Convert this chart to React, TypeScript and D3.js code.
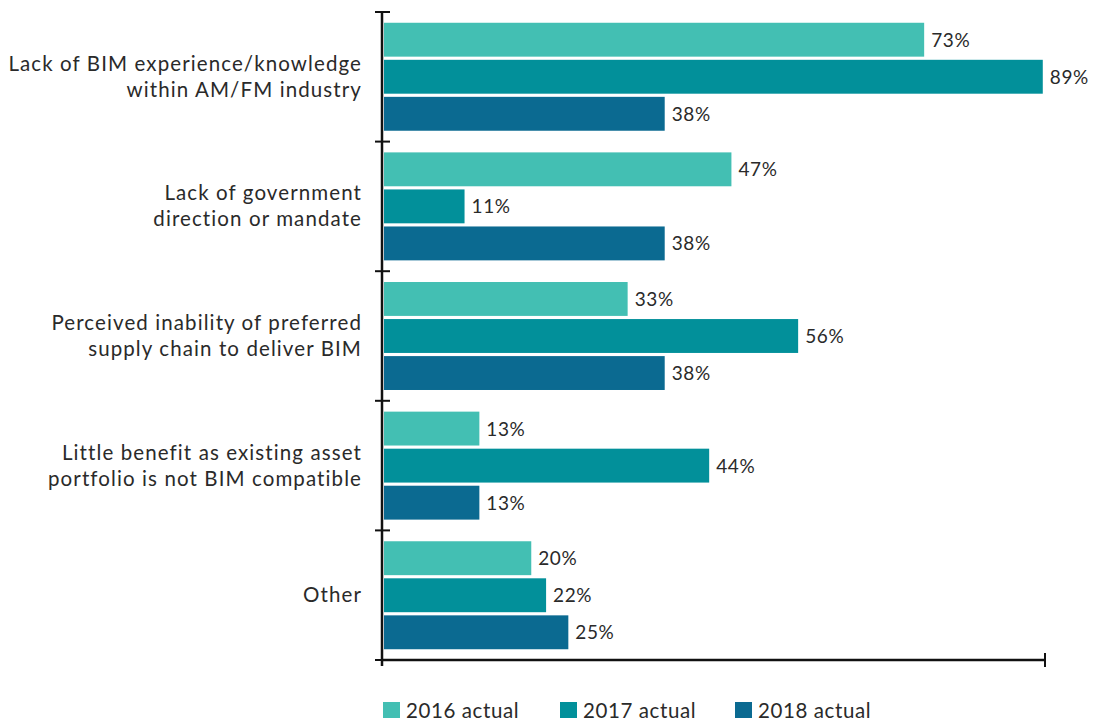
import React from "react";
import * as d3 from "d3";

const categories = [
  ["Lack of BIM experience/knowledge", "within AM/FM industry"],
  ["Lack of government", "direction or mandate"],
  ["Perceived inability of preferred", "supply chain to deliver BIM"],
  ["Little benefit as existing asset", "portfolio is not BIM compatible"],
  ["Other"],
];
const seriesNames = ["2016 actual", "2017 actual", "2018 actual"];
const values2016 = [73, 47, 33, 13, 20];
const values2017 = [89, 11, 56, 44, 22];
const values2018 = [38, 38, 38, 13, 25];
const colors = ["#43bfb3", "#02909a", "#0b6a91"];
const xMax = 89.3;

const W = 1093;
const H = 722;
const FONT = "Lato, 'Open Sans', sans-serif";

export default function App() {
  const series = [values2016, values2017, values2018];
  const x = d3.scaleLinear().domain([0, xMax]).range([383, 1045]);
  const y0 = d3
    .scaleBand<number>()
    .domain(d3.range(categories.length))
    .range([12, 660])
    .paddingInner(0.167)
    .paddingOuter(0.083);
  const y1 = d3
    .scaleBand<number>()
    .domain(d3.range(series.length))
    .range([0, y0.bandwidth()])
    .paddingInner(0.085);
  const step = (660 - 12) / categories.length;
  const boundaries = d3.range(categories.length + 1).map((i) => 12 + i * step);

  return (
    <svg width={W} height={H} style={{ position: "absolute", left: 0, top: 0, background: "#fff" }}>
      {/* bars */}
      {categories.map((_, ci) =>
        series.map((s, si) => {
          const yb = (y0(ci) as number) + (y1(si) as number);
          return (
            <g key={`${ci}-${si}`}>
              <rect
                x={x(0) + 1}
                y={yb}
                width={x(s[ci]) - x(0) - 1}
                height={y1.bandwidth()}
                fill={colors[si]}
              />
              <text
                x={x(s[ci]) + 7}
                y={yb + y1.bandwidth() / 2 + 7}
                fontFamily={FONT}
                fontSize={19}
                letterSpacing={0.6}
                fill="#2a2a2a"
              >
                {s[ci]}%
              </text>
            </g>
          );
        })
      )}
      {/* axes */}
      <line x1={382} x2={382} y1={12} y2={666} stroke="#111" strokeWidth={2.5} />
      <line x1={382} x2={1045} y1={660} y2={660} stroke="#111" strokeWidth={2.5} />
      {boundaries.slice(0, -1).map((b, i) => (
        <line key={i} x1={375} x2={390} y1={b} y2={b} stroke="#111" strokeWidth={2} />
      ))}
      <line x1={375} x2={390} y1={660} y2={660} stroke="#111" strokeWidth={2} />
      <line x1={1045} x2={1045} y1={653} y2={667} stroke="#111" strokeWidth={2} />
      {/* category labels */}
      {categories.map((lines, ci) => {
        const c = (y0(ci) as number) + y0.bandwidth() / 2;
        const n = lines.length;
        return (
          <text
            key={ci}
            x={362}
            textAnchor="end"
            fontFamily={FONT}
            fontSize={20.5}
            letterSpacing={1.1}
            fill="#2a2a2a"
          >
            {lines.map((l, li) => (
              <tspan key={li} x={362} y={c + 7 + (li - (n - 1) / 2) * 26}>
                {l}
              </tspan>
            ))}
          </text>
        );
      })}
      {/* legend */}
      {seriesNames.map((name, i) => {
        const lx = [383, 560, 735][i];
        return (
          <g key={name}>
            <rect x={lx} y={702} width={17} height={16} fill={colors[i]} />
            <text
              x={lx + 23}
              y={718}
              fontFamily={FONT}
              fontSize={20.5}
              letterSpacing={0.6}
              fill="#2a2a2a"
            >
              {name}
            </text>
          </g>
        );
      })}
    </svg>
  );
}
